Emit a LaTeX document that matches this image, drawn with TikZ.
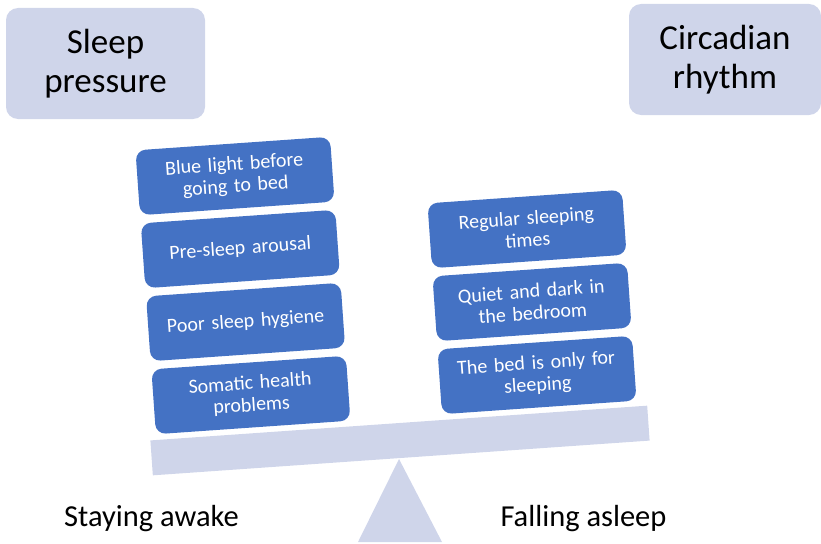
\documentclass[tikz,border=0pt]{standalone}
\usepackage{fontspec}
\setmainfont{Carlito}
\definecolor{lav}{HTML}{CFD5EA}
\definecolor{obl}{HTML}{4472C4}
\begin{document}
\begin{tikzpicture}[x=1pt,y=-1pt,
  topbox/.style={fill=lav, rounded corners=12pt, inner sep=0pt, align=center,
    font=\fontsize{35}{38.5}\selectfont},
  card/.style={fill=obl, rounded corners=10pt, rotate=4, minimum width=195pt,
    minimum height=65pt, text width=185pt, align=center, text=white,
    font=\fontsize{20}{22}\selectfont, inner sep=0pt},
  beam/.style={fill=lav, rotate=4, minimum width=498pt, minimum height=35pt, inner sep=0pt},
  sidelabel/.style={anchor=base, font=\fontsize{30.5}{34}\selectfont}]
\useasboundingbox (0,0) rectangle (821,543);

% top boxes
\node[topbox, minimum width=199pt, minimum height=111pt] (sp) at (105.5,63.5) {Sleep\\pressure};
\node[topbox, minimum width=192pt, minimum height=111pt] (cr) at (725,59.5) {Circadian\\rhythm};

% beam and fulcrum
\fill[lav] (399,459) -- (442,542) -- (358,542) -- cycle;
\node[beam] (bm) at (400,440.5) {};

% left stack
\node[card] (l1) at (235,176) {Blue light before\\going to bed};
\node[card] (l2) at (240.3,249) {Pre-sleep arousal};
\node[card] (l3) at (245.6,322) {Poor sleep hygiene};
\node[card] (l4) at (250.9,395) {Somatic health\\problems};

% right stack
\node[card] (r1) at (527,229) {Regular sleeping\\times};
\node[card] (r2) at (532,302) {Quiet and dark in\\the bedroom};
\node[card] (r3) at (537,375) {The bed is only for\\sleeping};

% bottom labels
\node[sidelabel] (sa) at (151.5,526) {Staying awake};
\node[sidelabel] (fa) at (583.5,526) {Falling asleep};
\end{tikzpicture}
\end{document}
